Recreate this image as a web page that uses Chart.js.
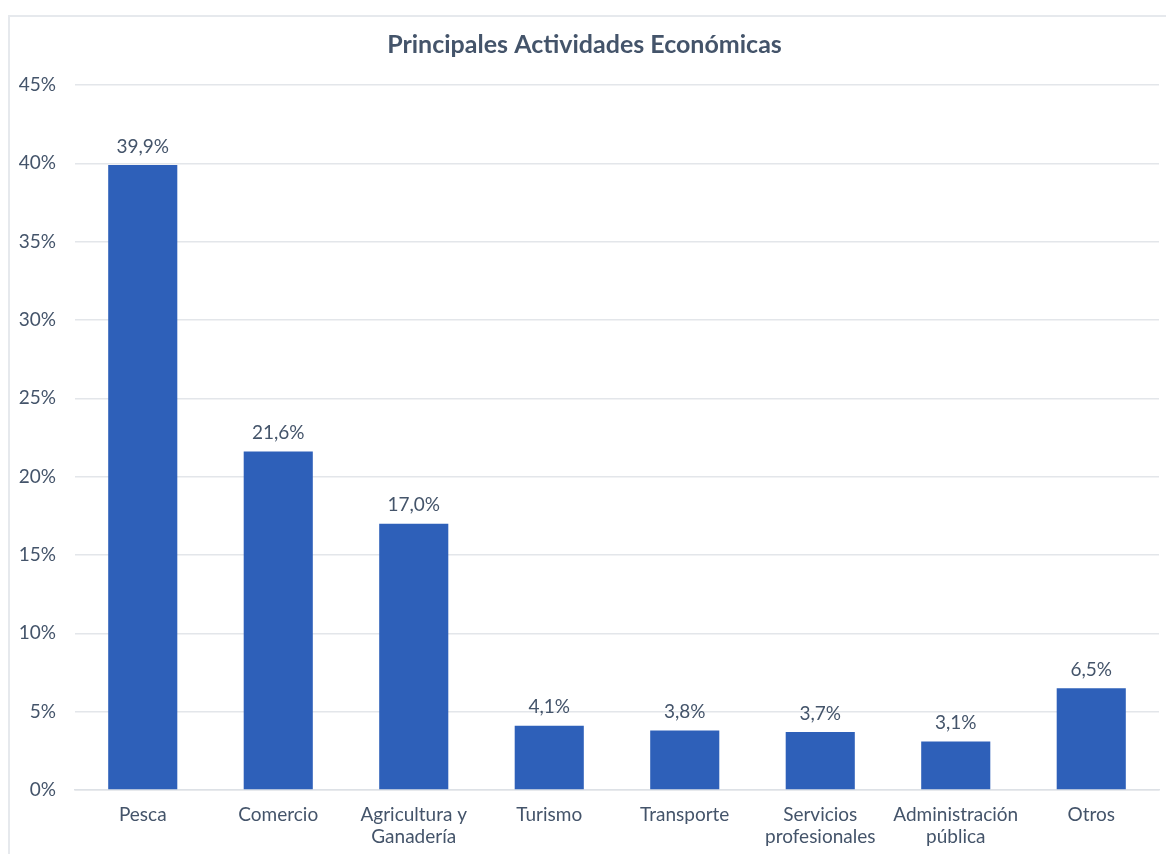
<html lang="es">
<head>
  <meta charset="UTF-8">
  <script src="https://cdn.jsdelivr.net/npm/chart.js@4.4.0/dist/chart.umd.min.js"></script>
  <title>Principales Actividades Económicas</title>
  <style>
    body { margin: 0; background: #fff; overflow: hidden; }
    #box { position: absolute; left: 8px; top: 15px; width: 1170px; height: 850px; border: 2px solid #E6E9ED; box-sizing: border-box; }
  </style>
</head>
<body>
  <div id="box"><canvas id="myChart" width="1166" height="846"></canvas></div>
  <script>
    const categories = ['Pesca', 'Comercio', ['Agricultura y', 'Ganadería'], 'Turismo', 'Transporte',
      ['Servicios', 'profesionales'], ['Administración', 'pública'], 'Otros'];
    const shares = [39.9, 21.6, 17.0, 4.1, 3.8, 3.7, 3.1, 6.5];
    const yTicks = [0, 5, 10, 15, 20, 25, 30, 35, 40, 45];

    const textColor = '#44546A';
    const font = 'Lato, "Noto Sans", sans-serif';

    // labels above each bar, using the bar positions Chart.js computed
    const barLabels = {
      id: 'barLabels',
      afterDatasetsDraw(chart) {
        const ctx = chart.ctx;
        const meta = chart.getDatasetMeta(0);
        ctx.save();
        ctx.font = '19px ' + font;
        ctx.fillStyle = textColor;
        ctx.textAlign = 'center';
        ctx.textBaseline = 'bottom';
        meta.data.forEach((bar, i) => {
          ctx.fillText(shares[i].toFixed(1).replace('.', ',') + '%', bar.x, bar.y - 9);
        });
        ctx.restore();
      }
    };

    const ctx = document.getElementById('myChart').getContext('2d');
    new Chart(ctx, {
      type: 'bar',
      data: {
        labels: categories,
        datasets: [{
          data: shares,
          backgroundColor: '#2E60B9',
          barPercentage: 0.51,
          categoryPercentage: 1
        }]
      },
      options: {
        responsive: false,
        animation: false,
        layout: { padding: { left: 0, right: 17, top: 0, bottom: 0 } },
        plugins: {
          legend: { display: false },
          tooltip: { enabled: false },
          title: {
            display: true,
            text: 'Principales Actividades Económicas',
            color: textColor,
            font: { family: font, size: 25, weight: 'bold' },
            padding: { top: 13, bottom: 25 }
          }
        },
        scales: {
          y: {
            min: 0,
            max: 45,
            afterBuildTicks(axis) { axis.ticks = yTicks.map(v => ({ value: v })); },
            afterFit(axis) { axis.width = 65; },
            border: { display: false },
            grid: { color: '#E3E6EA', lineWidth: 1.5, drawTicks: false },
            ticks: {
              color: textColor,
              font: { family: font, size: 19 },
              padding: 19,
              callback: v => v + '%'
            }
          },
          x: {
            afterFit(axis) { axis.height = 73; },
            border: { color: '#DDE1E6', width: 1.5 },
            grid: { display: false },
            ticks: {
              color: textColor,
              font: { family: font, size: 19 },
              maxRotation: 0,
              autoSkip: false,
              padding: 5
            }
          }
        }
      },
      plugins: [barLabels]
    });
  </script>
</body>
</html>
